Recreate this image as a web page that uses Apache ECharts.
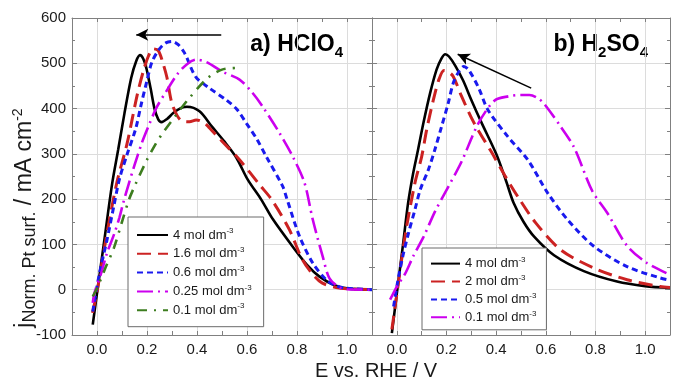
<!DOCTYPE html>
<html>
<head>
<meta charset="utf-8">
<script src="https://cdn.jsdelivr.net/npm/echarts@6/dist/echarts.min.js"></script>
<style>
  html, body { margin: 0; padding: 0; background: #fff; }
  #chart { width: 673px; height: 382px; }
</style>
</head>
<body>
<div id="chart"></div>
<script>
const FONT = "'Liberation Sans', Arial, Helvetica, sans-serif";

// Axis ticks
const xTickValues = [0.0, 0.2, 0.4, 0.6, 0.8, 1.0];
const xTickLabels = ['0.0', '0.2', '0.4', '0.6', '0.8', '1.0'];
const yTickLabels = ['-100', '0', '100', '200', '300', '400', '500', '600'];

// a) HClO4 : concentrations (mol dm-3) and curves as [E / V, j / mA cm-2]
const concA = ['4', '1.6', '0.6', '0.25', '0.1'];
const hclo4_4 = [[-0.017,-77],[0.0,-8],[0.03,112],[0.06,232],[0.085,310],[0.11,390],[0.137,468],[0.157,505],[0.172,518],[0.185,510],[0.198,488],[0.215,443],[0.23,400],[0.245,376],[0.258,370],[0.28,377],[0.305,390],[0.335,401],[0.36,404],[0.41,394],[0.46,360],[0.51,327],[0.557,292],[0.603,243],[0.657,199],[0.703,156],[0.783,95],[0.84,55],[0.89,29],[0.95,10],[1.0,3],[1.1,0]];
const hclo4_16 = [[-0.018,-51],[0.0,-5],[0.04,125],[0.08,238],[0.12,322],[0.16,428],[0.185,482],[0.205,515],[0.225,532],[0.245,528],[0.263,502],[0.28,468],[0.298,415],[0.32,385],[0.342,372],[0.37,371],[0.397,375],[0.43,368],[0.45,357],[0.5,328],[0.57,287],[0.65,232],[0.70,198],[0.77,132],[0.82,68],[0.86,36],[0.9,15],[0.957,5],[1.0,2],[1.1,0]];
const hclo4_06 = [[-0.017,-48],[0.01,37],[0.04,110],[0.066,181],[0.09,245],[0.12,298],[0.155,356],[0.175,405],[0.2,462],[0.22,503],[0.25,532],[0.275,545],[0.3,548],[0.325,541],[0.35,523],[0.395,470],[0.45,445],[0.517,419],[0.56,398],[0.597,368],[0.64,332],[0.677,294],[0.743,228],[0.76,200],[0.81,118],[0.863,59],[0.917,22],[0.96,8],[1.0,3],[1.1,0]];
const hclo4_025 = [[-0.017,-29],[-0.01,-7],[0.017,37],[0.04,81],[0.07,125],[0.09,160],[0.105,192],[0.125,230],[0.15,275],[0.18,325],[0.203,357],[0.238,402],[0.277,438],[0.32,475],[0.36,498],[0.397,508],[0.44,502],[0.5,482],[0.57,464],[0.62,436],[0.663,404],[0.73,346],[0.783,294],[0.83,236],[0.863,155],[0.903,73],[0.93,25],[0.97,5],[1.0,1],[1.1,0]];
const hclo4_01 = [[-0.017,-15],[0.003,7],[0.035,50],[0.068,93],[0.1,150],[0.128,199],[0.15,228],[0.2,287],[0.237,324],[0.263,346],[0.31,381],[0.363,419],[0.44,466],[0.5,486],[0.57,490]];

// b) H2SO4 : concentrations (mol dm-3) and curves as [E / V, j / mA cm-2]
const concB = ['4', '2', '0.5', '0.1'];
const h2so4_4 = [[-0.02,-96],[0.0,-8],[0.025,100],[0.045,190],[0.065,255],[0.085,308],[0.107,368],[0.134,434],[0.16,486],[0.18,511],[0.195,520],[0.21,515],[0.235,495],[0.267,462],[0.3,419],[0.34,370],[0.4,300],[0.44,240],[0.47,192],[0.51,150],[0.553,117],[0.633,76],[0.753,41],[0.887,18],[1.0,8],[1.1,4]];
const h2so4_2 = [[-0.02,-88],[0.0,-10],[0.035,125],[0.073,236],[0.1,294],[0.12,353],[0.147,419],[0.17,465],[0.19,484],[0.205,482],[0.227,471],[0.26,428],[0.3,380],[0.33,350],[0.38,305],[0.435,252],[0.49,203],[0.56,147],[0.66,88],[0.793,48],[0.927,22],[1.06,7],[1.1,5]];
const h2so4_05 = [[-0.013,-37],[0.007,29],[0.027,81],[0.047,125],[0.073,177],[0.095,222],[0.127,265],[0.153,309],[0.18,360],[0.207,412],[0.227,456],[0.25,482],[0.27,493],[0.29,485],[0.33,445],[0.367,397],[0.447,338],[0.527,287],[0.607,214],[0.687,155],[0.793,96],[0.927,51],[1.06,26],[1.1,21]];
const h2so4_01 = [[-0.027,-22],[0.0,7],[0.033,35],[0.067,75],[0.107,116],[0.153,172],[0.19,210],[0.26,282],[0.327,366],[0.394,418],[0.45,427],[0.5,430],[0.534,430],[0.57,422],[0.594,410],[0.66,360],[0.714,314],[0.787,218],[0.847,170],[0.927,97],[1.007,59],[1.1,33]];

// Arrows marking the shift of the peak with concentration, [E, j] tail -> head
const arrowA = [[0.497, 563], [0.157, 563]];
const arrowB = [[0.541, 445], [0.245, 520]];

// Line styles, one per concentration rank
const styles = [
  { color: '#000000', width: 2.6, type: 'solid' },
  { color: '#cc2222', width: 3, type: [14, 7] },
  { color: '#1a1aee', width: 3, type: [6, 4] },
  { color: '#cc00ee', width: 2.6, type: [16, 5, 2, 5] },
  { color: '#3d7d1f', width: 2.6, type: [10, 7, 2, 7] }
];

const GRID_LINE = '#dcdcdc';
const AXIS_LINE = '#808080';
const TEXT = '#1a1a1a';

function curve(panel, conc, data, style, idx) {
  return {
    type: 'line',
    name: panel + '|' + conc,
    xAxisIndex: idx,
    yAxisIndex: idx,
    data: data,
    symbol: 'none',
    smooth: 0.3,
    clip: true,
    lineStyle: { color: style.color, width: style.width, type: style.type, cap: 'butt' },
    itemStyle: { color: style.color },
    emphasis: { disabled: true },
    animation: false
  };
}

function arrowLine(points) {
  return {
    silent: true,
    symbol: ['none', 'arrow'],
    symbolSize: [9, 12],
    label: { show: false },
    lineStyle: { color: '#000', width: 1.5, type: 'solid' },
    emphasis: { disabled: true },
    animation: false,
    data: [[{ coord: points[0] }, { coord: points[1] }]]
  };
}

const seriesA = [hclo4_4, hclo4_16, hclo4_06, hclo4_025, hclo4_01]
  .map((d, i) => curve('a', concA[i], d, styles[i], 0));
const seriesB = [h2so4_4, h2so4_2, h2so4_05, h2so4_01]
  .map((d, i) => curve('b', concB[i], d, styles[i], 1));
seriesA[0].markLine = arrowLine(arrowA);
seriesB[0].markLine = arrowLine(arrowB);

function bottomX(gridIndex) {
  return {
    type: 'value', gridIndex: gridIndex, min: -0.1, max: 1.1, interval: 0.1,
    axisLine: { onZero: false, lineStyle: { color: AXIS_LINE, width: 1 } },
    axisTick: { inside: true, length: 4, lineStyle: { color: AXIS_LINE } },
    axisLabel: {
      margin: 7, fontSize: 15, color: TEXT, fontFamily: FONT,
      formatter: v => {
        const k = xTickValues.findIndex(t => Math.abs(t - v) < 1e-6);
        return k >= 0 ? xTickLabels[k] : '';
      }
    },
    splitLine: { show: true, lineStyle: { color: ['rgba(0,0,0,0)', GRID_LINE], width: 1 } }
  };
}
function topX(gridIndex) {
  return {
    type: 'value', gridIndex: gridIndex, position: 'top', min: -0.1, max: 1.1, interval: 0.1,
    axisLine: { onZero: false, lineStyle: { color: AXIS_LINE, width: 1 } },
    axisTick: { inside: true, length: 4, lineStyle: { color: AXIS_LINE } },
    axisLabel: { show: false }, splitLine: { show: false }
  };
}
function leftY(gridIndex, labels) {
  return {
    type: 'value', gridIndex: gridIndex, min: -100, max: 600, interval: 100,
    axisLine: { show: true, onZero: false, lineStyle: { color: AXIS_LINE, width: 1 } },
    axisTick: { inside: true, length: 5, lineStyle: { color: AXIS_LINE } },
    minorTick: { show: true, splitNumber: 2, length: 3, lineStyle: { color: AXIS_LINE } },
    axisLabel: {
      show: labels, margin: 6, fontSize: 15, color: TEXT, fontFamily: FONT,
      formatter: v => yTickLabels[Math.round((v + 100) / 100)]
    },
    splitLine: { show: true, lineStyle: { color: GRID_LINE, width: 1 } }
  };
}
function rightY(gridIndex) {
  return {
    type: 'value', gridIndex: gridIndex, position: 'right', min: -100, max: 600, interval: 100,
    axisLine: { show: true, onZero: false, lineStyle: { color: AXIS_LINE, width: 1 } },
    axisTick: { inside: true, length: 5, lineStyle: { color: AXIS_LINE } },
    minorTick: { show: true, splitNumber: 2, length: 3, lineStyle: { color: AXIS_LINE } },
    axisLabel: { show: false }, splitLine: { show: false }
  };
}

function legendFor(panel, concs, box) {
  return {
    data: concs.map(c => panel + '|' + c),
    orient: 'vertical',
    left: box.left, top: box.top,
    itemWidth: box.itemWidth, itemHeight: 14, itemGap: box.gap,
    padding: box.padding,
    backgroundColor: '#ffffff',
    borderColor: '#6a6a6a', borderWidth: 1,
    selectedMode: false,
    // only the line sample, no marker on it
    itemStyle: { color: 'rgba(0,0,0,0)', borderWidth: 0, opacity: 0 },
    formatter: name => '{t|' + name.split('|')[1] + ' mol dm}{s|-3}',
    textStyle: {
      color: TEXT, fontFamily: FONT,
      rich: {
        t: { fontSize: 13, lineHeight: 16, verticalAlign: 'middle', color: TEXT, fontFamily: FONT },
        s: { fontSize: 8, lineHeight: 6, verticalAlign: 'top', color: TEXT, fontFamily: FONT }
      }
    }
  };
}

const chart = echarts.init(document.getElementById('chart'), null, { renderer: 'canvas' });
chart.setOption({
  animation: false,
  backgroundColor: '#ffffff',
  grid: [
    { left: 72, top: 18, width: 300, height: 317, containLabel: false },
    { left: 372, top: 18, width: 300, height: 317, containLabel: false }
  ],
  xAxis: [bottomX(0), bottomX(1), topX(0), topX(1)],
  yAxis: [leftY(0, true), leftY(1, false), rightY(0), rightY(1)],
  legend: [
    legendFor('a', concA, { left: 128, top: 217, itemWidth: 31, gap: 4.3, padding: [10, 12, 10, 8] }),
    legendFor('b', concB, { left: 422, top: 248, itemWidth: 29, gap: 3.4, padding: [7.6, 10, 6, 8] })
  ],
  series: seriesA.concat(seriesB),
  graphic: [
    {
      type: 'text', x: 376, y: 371,
      style: {
        text: 'E vs. RHE / V', fill: TEXT,
        font: '20px ' + FONT, align: 'center', verticalAlign: 'middle'
      }
    },
    {
      type: 'text', x: 25, y: 218, rotation: Math.PI / 2,
      style: {
        text: '{m|j}{b|Norm. Pt surf.}{m| / mA cm}{p|-2}',
        align: 'center', verticalAlign: 'middle', fill: TEXT,
        rich: {
          m: { fontSize: 23, lineHeight: 28, verticalAlign: 'middle', fontFamily: FONT, fill: TEXT },
          b: { fontSize: 18, lineHeight: 14, verticalAlign: 'bottom', fontFamily: FONT, fill: TEXT },
          p: { fontSize: 14, lineHeight: 10, verticalAlign: 'top', fontFamily: FONT, fill: TEXT }
        }
      }
    },
    {
      type: 'text', x: 343, y: 45,
      style: {
        text: '{b|a) HClO}{s|4}', align: 'right', verticalAlign: 'middle', fill: '#000',
        rich: {
          b: { fontSize: 23, fontWeight: 'bold', lineHeight: 30, verticalAlign: 'middle', fontFamily: FONT, fill: '#000' },
          s: { fontSize: 15, fontWeight: 'bold', lineHeight: 10, verticalAlign: 'bottom', fontFamily: FONT, fill: '#000' }
        }
      }
    },
    {
      type: 'text', x: 648, y: 45,
      style: {
        text: '{b|b) H}{s|2}{b|SO}{s|4}', align: 'right', verticalAlign: 'middle', fill: '#000',
        rich: {
          b: { fontSize: 23, fontWeight: 'bold', lineHeight: 30, verticalAlign: 'middle', fontFamily: FONT, fill: '#000' },
          s: { fontSize: 15, fontWeight: 'bold', lineHeight: 10, verticalAlign: 'bottom', fontFamily: FONT, fill: '#000' }
        }
      }
    }
  ]
});
</script>
</body>
</html>
